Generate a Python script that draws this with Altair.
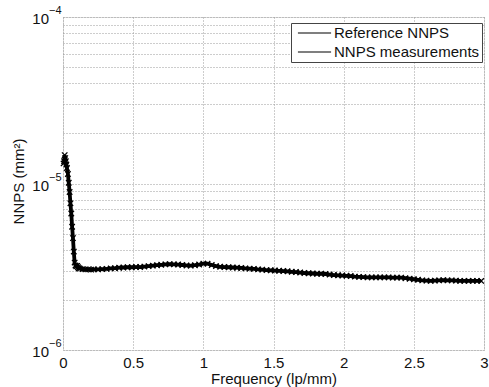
import altair as alt
import pandas as pd

# Measurement data (frequency lp/mm, NNPS mm^2)
freq_meas = [0.004, 0.008, 0.012, 0.016, 0.020, 0.024, 0.028, 0.035, 0.041, 0.047, 0.053, 0.059,
             0.065, 0.071, 0.077, 0.083, 0.089, 0.095, 0.101, 0.107, 0.113, 0.120, 0.14, 0.16, 0.18,
             0.20, 0.22, 0.25, 0.28, 0.31, 0.34, 0.37, 0.40, 0.43, 0.46, 0.49, 0.52, 0.55, 0.58, 0.61,
             0.64, 0.67, 0.70, 0.73, 0.76, 0.79, 0.82, 0.85, 0.88, 0.91, 0.94, 0.97, 1.00, 1.03, 1.06,
             1.09, 1.12, 1.15, 1.18, 1.21, 1.24, 1.27, 1.30, 1.33, 1.36, 1.39, 1.42, 1.45, 1.48, 1.51,
             1.54, 1.57, 1.60, 1.63, 1.66, 1.69, 1.72, 1.75, 1.78, 1.81, 1.84, 1.87, 1.90, 1.93, 1.96,
             1.99, 2.02, 2.05, 2.08, 2.11, 2.14, 2.17, 2.20, 2.23, 2.26, 2.29, 2.32, 2.35, 2.38, 2.41,
             2.44, 2.47, 2.50, 2.53, 2.56, 2.59, 2.62, 2.65, 2.68, 2.71, 2.74, 2.77, 2.80, 2.83, 2.86,
             2.89, 2.92, 2.95, 2.98]
nnps_meas = [13.2e-6, 13.6e-6, 14.8e-6, 14.2e-6, 13.6e-6, 13.0e-6, 12.4e-6, 11.4e-6, 10.1e-6, 8.9e-6,
             7.6e-6, 6.6e-6, 5.5e-6, 4.7e-6, 3.9e-6, 3.35e-6, 3.22e-6, 3.18e-6, 3.20e-6, 3.14e-6,
             3.10e-6, 3.08e-6, 3.06e-6, 3.05e-6, 3.05e-6, 3.04e-6, 3.05e-6, 3.05e-6, 3.06e-6, 3.07e-6,
             3.09e-6, 3.10e-6, 3.12e-6, 3.13e-6, 3.14e-6, 3.14e-6, 3.15e-6, 3.15e-6, 3.17e-6, 3.19e-6,
             3.21e-6, 3.23e-6, 3.25e-6, 3.27e-6, 3.28e-6, 3.27e-6, 3.26e-6, 3.24e-6, 3.22e-6, 3.21e-6,
             3.23e-6, 3.26e-6, 3.30e-6, 3.30e-6, 3.24e-6, 3.19e-6, 3.16e-6, 3.15e-6, 3.14e-6, 3.13e-6,
             3.12e-6, 3.11e-6, 3.09e-6, 3.08e-6, 3.07e-6, 3.05e-6, 3.04e-6, 3.02e-6, 3.01e-6, 3.00e-6,
             2.99e-6, 2.98e-6, 2.97e-6, 2.95e-6, 2.94e-6, 2.92e-6, 2.90e-6, 2.89e-6, 2.88e-6, 2.87e-6,
             2.87e-6, 2.86e-6, 2.84e-6, 2.82e-6, 2.81e-6, 2.80e-6, 2.79e-6, 2.78e-6, 2.76e-6, 2.75e-6,
             2.74e-6, 2.73e-6, 2.73e-6, 2.73e-6, 2.73e-6, 2.73e-6, 2.73e-6, 2.72e-6, 2.72e-6, 2.72e-6,
             2.70e-6, 2.68e-6, 2.66e-6, 2.64e-6, 2.62e-6, 2.61e-6, 2.60e-6, 2.61e-6, 2.62e-6, 2.63e-6,
             2.62e-6, 2.62e-6, 2.61e-6, 2.60e-6, 2.60e-6, 2.60e-6, 2.60e-6, 2.60e-6, 2.60e-6]

# Reference curve
freq_ref = [0.008, 0.012, 0.030, 0.047, 0.065, 0.083, 0.100, 0.20, 0.40, 0.60, 0.76, 0.90, 1.00,
            1.20, 1.50, 1.80, 2.00, 2.20, 2.40, 2.60, 2.80, 2.98]
nnps_ref = [13.6e-6, 14.8e-6, 12.2e-6, 8.9e-6, 5.5e-6, 3.35e-6, 3.18e-6, 3.05e-6, 3.12e-6, 3.18e-6,
            3.28e-6, 3.21e-6, 3.30e-6, 3.14e-6, 3.00e-6, 2.87e-6, 2.80e-6, 2.73e-6, 2.72e-6, 2.61e-6,
            2.61e-6, 2.60e-6]

series_names = ["Reference NNPS", "NNPS measurements"]
x_ticks = [0, 0.5, 1, 1.5, 2, 2.5, 3]
y_grid = [1e-6, 2e-6, 3e-6, 4e-6, 5e-6, 6e-6, 7e-6, 8e-6, 9e-6,
          1e-5, 2e-5, 3e-5, 4e-5, 5e-5, 6e-5, 7e-5, 8e-5, 9e-5, 1e-4]
decade_vals = [1e-6, 1e-5, 1e-4]
decade_exps = ["\u22126", "\u22125", "\u22124"]

df = pd.concat([
    pd.DataFrame({"f": freq_ref, "v": nnps_ref, "series": series_names[0]}),
    pd.DataFrame({"f": freq_meas, "v": nnps_meas, "series": series_names[1]}),
], ignore_index=True)
lab = pd.DataFrame({"v": decade_vals, "base": ["10"] * 3, "exp": decade_exps})

FONT = "Liberation Sans"
FS = 15

xs = alt.Scale(domain=[0, 3], nice=False, zero=False)
ys = alt.Scale(type="log", domain=[1e-6, 1e-4], nice=False)

x_enc = alt.X("f:Q", scale=xs, axis=alt.Axis(
    values=x_ticks, title="Frequency (lp/mm)", grid=True, gridDash=[1, 2], gridColor="#9a9a9a",
    ticks=False, domain=False, labelFontSize=FS, labelPadding=5, titleFontSize=FS,
    titlePadding=1, labelColor="#111", titleColor="#111", labelFont=FONT, titleFont=FONT,
    titleFontWeight="normal", labelFlush=False, labelExpr="'' + datum.value"))
y_enc = alt.Y("v:Q", scale=ys, axis=alt.Axis(
    values=y_grid, title="NNPS (mm\u00b2)", grid=True, gridDash=[1, 2], gridColor="#9a9a9a",
    ticks=False, domain=False, labels=False, titleFontSize=FS, titleFont=FONT,
    titleFontWeight="normal", titleColor="#111", titleX=-45, titleY=164, titleAngle=270,
    titleBaseline="middle", titleAlign="center"))

color = alt.Color("series:N", scale=alt.Scale(domain=series_names, range=["#000000", "#000000"]),
                  legend=alt.Legend(title=None, orient="none", legendX=228, legendY=6,
                                    symbolType="stroke", symbolSize=1100, symbolStrokeWidth=1.2,
                                    symbolStrokeColor="#000", labelFontSize=FS, labelFont=FONT,
                                    labelColor="#111", fillColor="white", strokeColor="#444",
                                    padding=2, rowPadding=3, clipHeight=16, symbolOffset=4,
                                    labelOffset=2))

base = alt.Chart(df)
ref_line = base.transform_filter(alt.datum.series == series_names[0]).mark_line(
    strokeWidth=1.2).encode(x=x_enc, y=y_enc, color=color)
meas_line = base.transform_filter(alt.datum.series == series_names[1]).mark_line(
    strokeWidth=3.8).encode(x=x_enc, y=y_enc, color=color)
meas_pts = base.transform_filter(alt.datum.series == series_names[1]).mark_point(
    shape="M-1,-1L1,1M-1,1L1,-1", size=30, filled=False, strokeWidth=1.3, color="#000",
    opacity=1).encode(x=x_enc, y=y_enc)

labels_base = alt.Chart(lab).mark_text(align="right", baseline="middle", fontSize=FS, font=FONT,
                                       color="#111", dy=2).encode(
    x=alt.value(-14), y=alt.Y("v:Q", scale=ys), text="base:N")
labels_exp = alt.Chart(lab).mark_text(align="left", baseline="middle", fontSize=11, font=FONT,
                                      color="#111", dy=-6).encode(
    x=alt.value(-14), y=alt.Y("v:Q", scale=ys), text="exp:N")

chart = alt.layer(ref_line, meas_line, meas_pts, labels_base, labels_exp).properties(
    width=421, height=333, padding={"left": 63, "top": 17, "right": 5, "bottom": 37},
    autosize=alt.AutoSizeParams(type="none"),
).configure_view(stroke="#444", strokeWidth=1).configure(background="white")

chart.save("out.html", embed_options={"renderer": "svg", "actions": False})
